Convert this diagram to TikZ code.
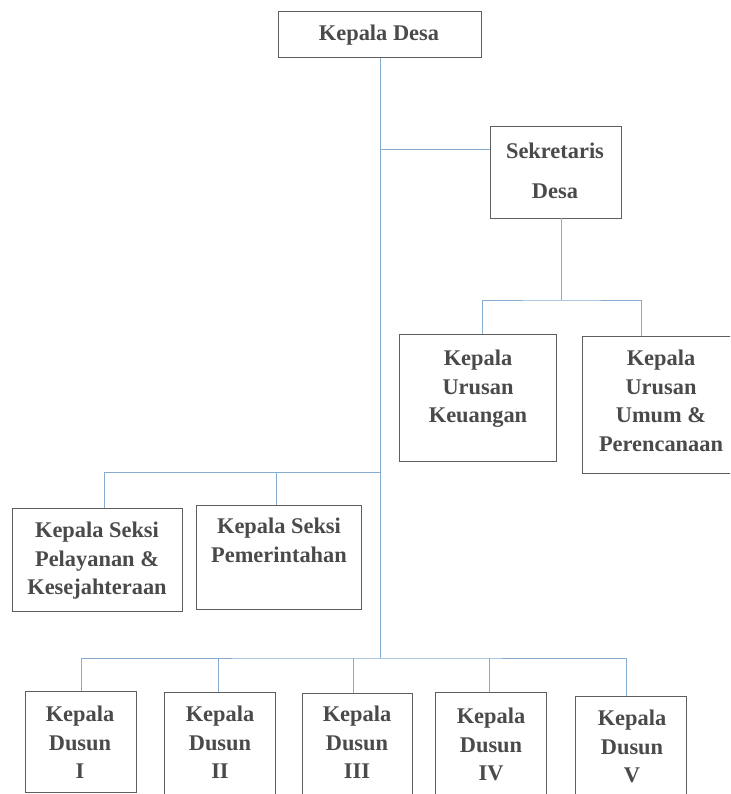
\documentclass[tikz,border=0pt]{standalone}
\usepackage{fontspec}
\setmainfont{Liberation Serif}
\definecolor{boxgray}{HTML}{5E5E5E}
\definecolor{txtgray}{HTML}{4A4A4A}
\definecolor{linkblue}{HTML}{86ACD2}
\begin{document}
\begin{tikzpicture}[x=1pt,y=-1pt,
  box/.style={draw=boxgray, line width=0.9pt, rectangle, inner sep=0pt, anchor=north west},
  lbl/.style={text=txtgray, font=\bfseries\fontsize{22.4}{28.5}\selectfont, align=center, anchor=north, inner sep=0pt},
  link/.style={draw=linkblue, line width=0.9pt}]
\useasboundingbox (0,0) rectangle (730,794);
\clip (0,0) rectangle (730,794);

% boxes
\node[box, minimum width=203, minimum height=46]  (kd)   at (278,11)  {};
\node[box, minimum width=131, minimum height=92]  (sd)   at (490,126) {};
\node[box, minimum width=157, minimum height=127] (keu)  at (399,334) {};
\node[box, minimum width=160, minimum height=137] (umum) at (582,336) {};
\node[box, minimum width=170, minimum height=103] (pel)  at (12,508)  {};
\node[box, minimum width=165, minimum height=104] (pem)  at (196,505) {};
\node[box, minimum width=111, minimum height=101] (d1)   at (25,691)  {};
\node[box, minimum width=111, minimum height=110] (d2)   at (164,692) {};
\node[box, minimum width=110, minimum height=110] (d3)   at (302,693) {};
\node[box, minimum width=111, minimum height=110] (d4)   at (435,692) {};
\node[box, minimum width=111, minimum height=110] (d5)   at (575,696) {};

% labels
\node[lbl] (tkd)   at (379,25)  {Kepala Desa};
\node[lbl] (tsd)   at (555,143) {Sekretaris\\[11.5pt]Desa};
\node[lbl] (tkeu)  at (478,350) {Kepala\\Urusan\\Keuangan};
\node[lbl] (tumum) at (661,350) {Kepala\\Urusan\\Umum \&\\Perencanaan};
\node[lbl] (tpel)  at (97,522)  {Kepala Seksi\\Pelayanan \&\\Kesejahteraan};
\node[lbl] (tpem)  at (279,518) {Kepala Seksi\\Pemerintahan};
\node[lbl] (td1)   at (80,706)  {Kepala\\Dusun\\I};
\node[lbl] (td2)   at (220,706) {Kepala\\Dusun\\II};
\node[lbl] (td3)   at (357,706) {Kepala\\Dusun\\III};
\node[lbl] (td4)   at (491,708) {Kepala\\Dusun\\IV};
\node[lbl] (td5)   at (632,710) {Kepala\\Dusun\\V};

% junction points
\coordinate (sdin)  at (490,149);
\coordinate (sdout) at (561,218);
\coordinate (ubus)  at (561,300);
\coordinate (keuin) at (482,334);
\coordinate (umin)  at (641,336);
\coordinate (sbus)  at (380,472);
\coordinate (pelin) at (104,508);
\coordinate (pemin) at (276,505);
\coordinate (dbus)  at (380,658);
\coordinate (d1in)  at (81,691);
\coordinate (d2in)  at (218,692);
\coordinate (d3in)  at (353,693);
\coordinate (d4in)  at (489,692);
\coordinate (d5in)  at (626,696);

% connectors
\draw[link] (kd.south) -- (kd.south |- dbus);
\draw[link] (kd.south |- sdin) -- (sdin);
\draw[link] (sdout) -- (ubus);
\draw[link] (keuin) |- (ubus) -| (umin);
\draw[link] (pelin) |- (sbus);
\draw[link] (pemin |- sbus) -- (pemin);
\draw[link] (d1in) |- (dbus) -| (d5in);
\draw[link] (d2in |- dbus) -- (d2in);
\draw[link] (d3in |- dbus) -- (d3in);
\draw[link] (d4in |- dbus) -- (d4in);
\end{tikzpicture}
\end{document}
